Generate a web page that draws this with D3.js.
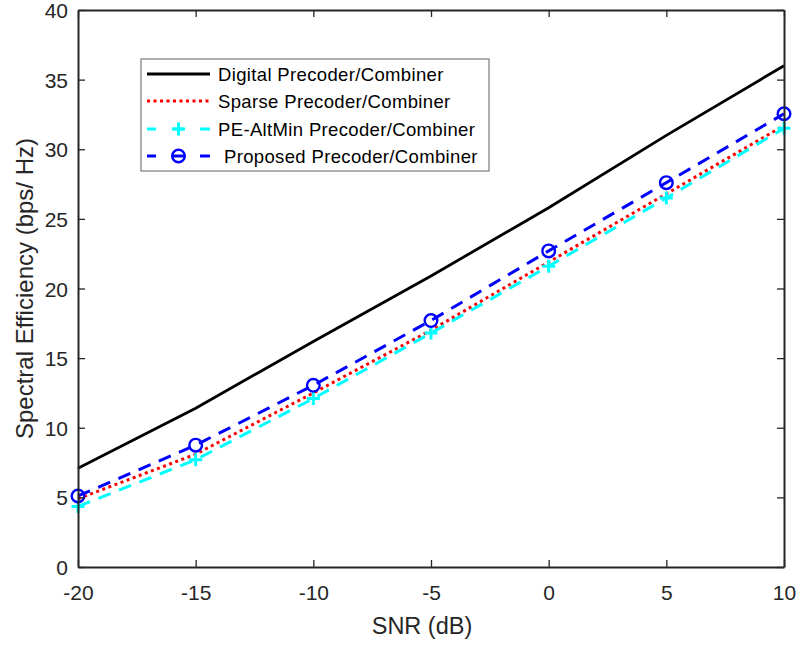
<!DOCTYPE html>
<html>
<head>
<meta charset="utf-8">
<script src="https://cdn.jsdelivr.net/npm/d3@7"></script>
<style>
  html, body { margin: 0; padding: 0; background: #fff; }
  svg { display: block; font-family: "Liberation Sans", Arial, sans-serif; }
</style>
</head>
<body>
<svg id="chart" width="796" height="645"></svg>
<script>
// SNR sweep and spectral efficiency of each precoder/combiner design
const snr = [-20, -15, -10, -5, 0, 5, 10];
const digital  = [7.1, 11.4, 16.2, 20.9, 25.8, 31.0, 36.0];
const sparse   = [4.9, 8.1, 12.5, 17.0, 21.9, 26.8, 31.7];
const peAltMin = [4.35, 7.7, 12.1, 16.8, 21.6, 26.5, 31.5];
const proposed = [5.1, 8.75, 13.05, 17.7, 22.7, 27.6, 32.55];

const xTicks = [-20, -15, -10, -5, 0, 5, 10];
const yTicks = [0, 5, 10, 15, 20, 25, 30, 35, 40];

const seriesNames = [
  "Digital Precoder/Combiner",
  "Sparse Precoder/Combiner",
  "PE-AltMin Precoder/Combiner",
  "Proposed Precoder/Combiner"
];

const svg = d3.select("#chart");
const mLeft = 78, mRight = 784, mTop = 10, mBottom = 567;
const x = d3.scaleLinear().domain([-20, 10]).range([mLeft, mRight]);
const y = d3.scaleLinear().domain([0, 40]).range([mBottom, mTop]);
const axisColor = "#262626";
const fontFamily = "Liberation Sans, Arial, sans-serif";

// series styles
const styles = [
  { data: digital,  color: "#000000", width: 2.8, dash: null,    marker: null },
  { data: sparse,   color: "#ff0000", width: 3,   dash: "3,3.5", marker: null },
  { data: peAltMin, color: "#00ffff", width: 3,   dash: "13,9",  marker: "plus" },
  { data: proposed, color: "#0000ff", width: 3,   dash: "13,9",  marker: "circle" }
];

const line = d3.line().x(d => x(d[0])).y(d => y(d[1]));

function drawMarker(g, kind, cx, cy, color) {
  if (kind === "circle") {
    g.append("circle").attr("cx", cx).attr("cy", cy).attr("r", 6.3)
      .attr("fill", "none").attr("stroke", color).attr("stroke-width", 2.4);
  } else if (kind === "plus") {
    const r = 6.5;
    g.append("path")
      .attr("d", `M${cx - r},${cy}H${cx + r}M${cx},${cy - r}V${cy + r}`)
      .attr("stroke", color).attr("stroke-width", 3);
  }
}

const plot = svg.append("g");
styles.forEach(s => {
  const pts = snr.map((v, i) => [v, s.data[i]]);
  plot.append("path")
    .attr("d", line(pts))
    .attr("fill", "none")
    .attr("stroke", s.color)
    .attr("stroke-width", s.width)
    .attr("stroke-dasharray", s.dash);
  if (s.marker) pts.forEach(d => drawMarker(plot, s.marker, x(d[0]), y(d[1]), s.color));
});

// axes: a closed box with inward ticks on all four sides
const tickLen = 7;
const fmt = d => String(d);
const xAxisB = d3.axisBottom(x).tickValues(xTicks).tickFormat(fmt).tickSizeInner(-tickLen).tickSizeOuter(0).tickPadding(18);
const yAxisL = d3.axisLeft(y).tickValues(yTicks).tickFormat(fmt).tickSizeInner(-tickLen).tickSizeOuter(0).tickPadding(10);
const xAxisT = d3.axisTop(x).tickValues(xTicks).tickSizeInner(-tickLen).tickSizeOuter(0).tickFormat("");
const yAxisR = d3.axisRight(y).tickValues(yTicks).tickSizeInner(-tickLen).tickSizeOuter(0).tickFormat("");

function styleAxis(g) {
  g.selectAll("path.domain").attr("stroke", axisColor).attr("stroke-width", 2);
  g.selectAll(".tick line").attr("stroke", axisColor).attr("stroke-width", 1.3);
  g.selectAll(".tick text").attr("fill", axisColor).attr("font-size", 21)
    .attr("font-family", fontFamily);
}
const gxb = svg.append("g").attr("transform", `translate(0,${mBottom})`).call(xAxisB).call(styleAxis);
gxb.selectAll(".tick text").attr("y", 33).attr("dy", null);
const gyl = svg.append("g").attr("transform", `translate(${mLeft},0)`).call(yAxisL).call(styleAxis);
gyl.selectAll(".tick text").attr("x", -10).attr("dy", "0.36em");
svg.append("g").attr("transform", `translate(0,${mTop})`).call(xAxisT).call(styleAxis);
svg.append("g").attr("transform", `translate(${mRight},0)`).call(yAxisR).call(styleAxis);

// axis titles
svg.append("text")
  .attr("x", 422).attr("y", 634)
  .attr("text-anchor", "middle")
  .attr("fill", axisColor).attr("font-size", 23.5)
  .text("SNR (dB)");
svg.append("text")
  .attr("transform", `translate(33,${(mTop + mBottom) / 2}) rotate(-90)`)
  .attr("text-anchor", "middle")
  .attr("fill", axisColor).attr("font-size", 24)
  .text("Spectral Efficiency (bps/ Hz)");

// legend
const lg = svg.append("g");
lg.append("rect")
  .attr("x", 141).attr("y", 59).attr("width", 348).attr("height", 112)
  .attr("fill", "#fff").attr("stroke", "#7a7a7a").attr("stroke-width", 1.2);
const rowY = [74, 101, 129, 156];
const textX = [218, 218, 218, 224];
styles.forEach((s, i) => {
  const ly = rowY[i];
  if (s.marker) {
    // dashed sample: end dashes plus a short stroke through the marker
    [[147, 156], [173, 184], [200, 210]].forEach(([a, b]) => {
      lg.append("line").attr("x1", a).attr("x2", b).attr("y1", ly).attr("y2", ly)
        .attr("stroke", s.color).attr("stroke-width", s.width);
    });
    drawMarker(lg, s.marker, 178.5, ly, s.color);
  } else {
    lg.append("line")
      .attr("x1", 147).attr("x2", 210).attr("y1", ly).attr("y2", ly)
      .attr("stroke", s.color).attr("stroke-width", s.width)
      .attr("stroke-dasharray", s.dash);
  }
  lg.append("text")
    .attr("x", textX[i]).attr("y", ly + 6.5)
    .attr("fill", "#000").attr("font-size", 18.5)
    .attr("letter-spacing", 0.35)
    .text(seriesNames[i]);
});
</script>
</body>
</html>
